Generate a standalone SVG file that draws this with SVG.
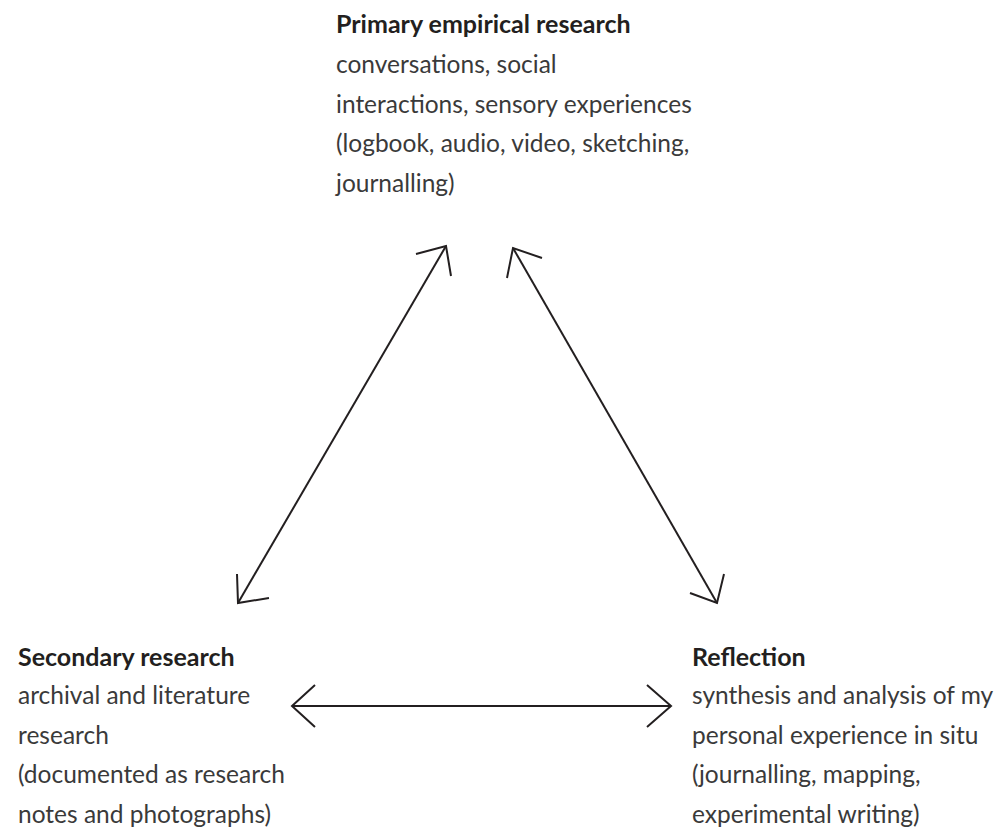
<svg xmlns="http://www.w3.org/2000/svg" width="994" height="839" viewBox="0 0 994 839">
  <style>
    .head { font-family: Lato, "Open Sans", sans-serif; font-weight: bold; font-size: 25px; fill: #231f20; }
    .body { font-family: Lato, "Open Sans", sans-serif; font-size: 24.5px; fill: #3a3a3a; }
    .link { fill: none; stroke: #231f20; stroke-width: 2; stroke-linecap: butt; stroke-linejoin: miter; }
  </style>
  <rect width="994" height="839" fill="#ffffff"/>

  <g id="primary">
    <text class="head" x="336" y="32.5">Primary empirical research</text>
    <text class="body" x="336" y="72.5">conversations, social</text>
    <text class="body" x="336" y="112.5">interactions, sensory experiences</text>
    <text class="body" x="336" y="151.5">(logbook, audio, video, sketching,</text>
    <text class="body" x="336" y="191.5">journalling)</text>
  </g>

  <g id="secondary">
    <text class="head" x="18" y="665.5">Secondary research</text>
    <text class="body" x="18" y="703.5">archival and literature</text>
    <text class="body" x="18" y="743.5">research</text>
    <text class="body" x="18" y="782.5">(documented as research</text>
    <text class="body" x="18" y="822.5">notes and photographs)</text>
  </g>

  <g id="reflection">
    <text class="head" x="692" y="665.5">Reflection</text>
    <text class="body" x="692" y="703.5">synthesis and analysis of my</text>
    <text class="body" x="692" y="743.5">personal experience in situ</text>
    <text class="body" x="692" y="782.5">(journalling, mapping,</text>
    <text class="body" x="692" y="822.5">experimental writing)</text>
  </g>

  <g id="connectors">
    <!-- primary ↔ secondary -->
    <line class="link" x1="446" y1="246" x2="238" y2="603"/>
    <polyline class="link" points="416,254 446,246 451,276"/>
    <polyline class="link" points="237,574 238,603 269,598"/>
    <!-- primary ↔ reflection -->
    <line class="link" x1="513" y1="248" x2="717" y2="603"/>
    <polyline class="link" points="542,258 513,248 507,278"/>
    <polyline class="link" points="690,593 717,603 724,574"/>
    <!-- secondary ↔ reflection -->
    <line class="link" x1="292" y1="706" x2="671" y2="706"/>
    <polyline class="link" points="315,685 292,706 315,727"/>
    <polyline class="link" points="647,685 671,706 647,727"/>
  </g>
</svg>
